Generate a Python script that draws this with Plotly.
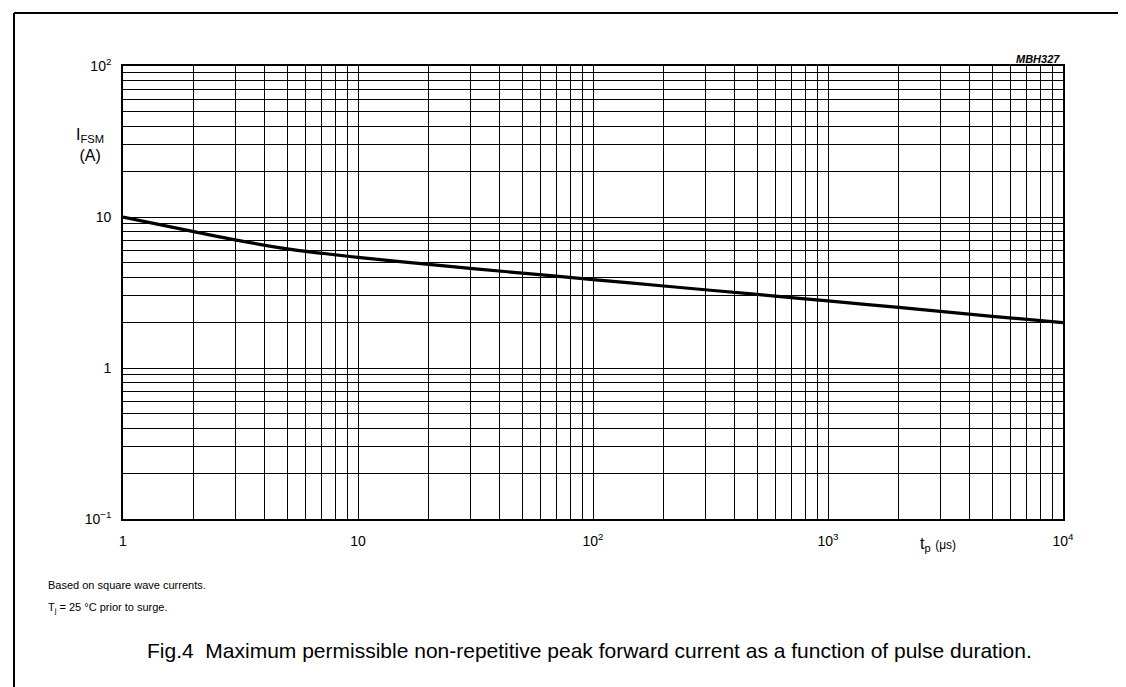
import plotly.graph_objects as go

# Data
pulse_duration_us = [1, 2, 3, 5, 10, 20, 50, 100, 200, 500, 1000, 2000, 5000, 10000]
peak_current_a = [10.0, 8.0, 7.05, 6.15, 5.4, 4.85, 4.25, 3.85, 3.49, 3.07, 2.78, 2.52, 2.2, 2.0]

x_tick_vals = [1, 10, 100, 1000, 10000]
x_tick_text = ["1", "10", "10<sup>2</sup>", "10<sup>3</sup>", "10<sup>4</sup>"]
y_tick_vals = [0.1, 1, 10, 100]
y_tick_text = ["10<sup>\u22121</sup>", "1", "10", "10<sup>2</sup>"]

W, H = 1126, 687
L, R, T, B = 115, 1055, 58, 511

def px(x):
    return (x - L) / (R - L)

def py(y):
    return (B - y) / (B - T)

FONT = "Liberation Sans, Arial, sans-serif"

fig = go.Figure()
fig.add_trace(go.Scatter(
    x=pulse_duration_us, y=peak_current_a, mode="lines",
    line=dict(color="black", width=3.2, shape="spline", smoothing=0.8),
    showlegend=False, hoverinfo="x+y"))

axis_common = dict(
    type="log", showline=True, linecolor="black", linewidth=1.6, mirror=True,
    showgrid=True, gridcolor="black", gridwidth=1.25,
    ticks="", zeroline=False,
    tickfont=dict(family=FONT, size=14, color="black"),
    minor=dict(showgrid=True, gridcolor="black", gridwidth=1.1, dtick="D1", ticks=""),
)

fig.update_xaxes(range=[0, 4], tickvals=x_tick_vals, ticktext=x_tick_text,
                 ticklabelstandoff=8, **axis_common)
fig.update_yaxes(range=[-1, 2], tickvals=y_tick_vals, ticktext=y_tick_text,
                 ticklabelstandoff=7, **axis_common)

annotations = [
    dict(x=px(66), y=py(116), text="I<sub>FSM</sub><br>(A)", showarrow=False,
         xref="paper", yref="paper", font=dict(family=FONT, size=16, color="black"),
         align="center"),
    dict(x=px(950), y=py(548), text="t<sub>p</sub> <span style='font-size:12px'>(\u03bcs)</span>",
         showarrow=False, xref="paper", yref="paper",
         font=dict(family=FONT, size=16, color="black")),
    dict(x=px(1054), y=py(43), text="<b><i>MBH327</i></b>", showarrow=False,
         xref="paper", yref="paper", xanchor="right",
         font=dict(family=FONT, size=11, color="black")),
    dict(x=px(38), y=py(585), text="Based on square wave currents.", showarrow=False,
         xref="paper", yref="paper", xanchor="left",
         font=dict(family=FONT, size=11, color="black")),
    dict(x=px(38), y=py(609), text="T<sub>j</sub> = 25 \u00b0C prior to surge.", showarrow=False,
         xref="paper", yref="paper", xanchor="left",
         font=dict(family=FONT, size=11, color="black")),
    dict(x=px(581), y=py(656),
         text="Fig.4  Maximum permissible non-repetitive peak forward current as a function of pulse duration.",
         showarrow=False, xref="paper", yref="paper",
         font=dict(family=FONT, size=21, color="black")),
]

shapes = [
    dict(type="line", xref="paper", yref="paper", x0=px(6), x1=px(W), y0=py(5), y1=py(5),
         line=dict(color="black", width=2)),
    dict(type="line", xref="paper", yref="paper", x0=px(6), x1=px(6), y0=py(5), y1=py(H),
         line=dict(color="black", width=2)),
]

fig.update_layout(
    width=W, height=H,
    margin=dict(l=L, r=W - R, t=T, b=H - B),
    paper_bgcolor="white", plot_bgcolor="white",
    annotations=annotations, shapes=shapes,
    font=dict(family=FONT, color="black"),
)

fig.write_html("out.html")
